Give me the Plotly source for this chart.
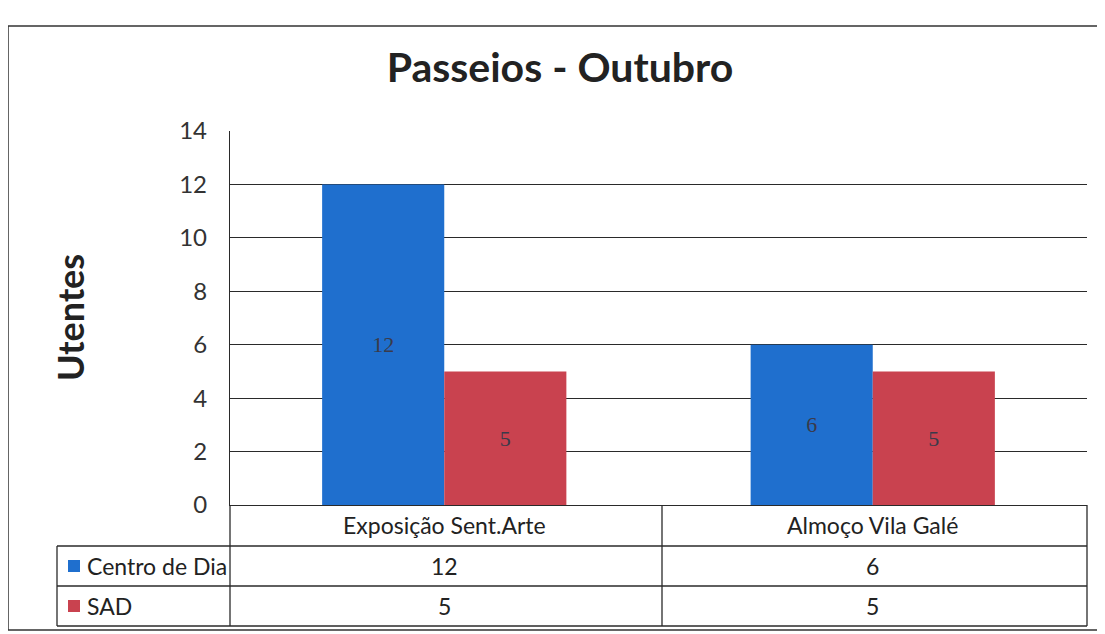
import plotly.graph_objs as go

categorias = ['Exposição Sent.Arte', 'Almoço Vila Galé']
series = ['Centro de Dia', 'SAD']
centro_de_dia = [12, 6]
sad = [5, 5]
valores = [centro_de_dia, sad]
cores = ['#1f6fce', '#c9424f']

W, H = 1105, 634
OFF = 8  # margem do body da página


def px(x):
    return (x - OFF) / W


def py(y):
    return 1 - (y - OFF) / H


fig = go.Figure()

for nome, vals, cor in zip(series, valores, cores):
    fig.add_trace(go.Bar(
        x=categorias,
        y=vals,
        name=nome,
        marker=dict(color=cor, line=dict(width=0)),
        text=[str(v) for v in vals],
        textposition='inside',
        insidetextanchor='middle',
        textfont=dict(family='Liberation Serif', size=22, color='#3a3a4a'),
    ))

shapes = []
line = dict(color='#2a2a2a', width=1.3)
# moldura exterior do gráfico
shapes.append(dict(type='rect', xref='paper', yref='paper',
                   x0=px(8), x1=px(1130), y0=py(630), y1=py(26),
                   line=dict(color='#333', width=1.5)))
# linhas horizontais da tabela
for yy in [546, 586, 626]:
    shapes.append(dict(type='line', xref='paper', yref='paper',
                       x0=px(57), x1=px(1087), y0=py(yy), y1=py(yy), line=line))
# linhas verticais da tabela
shapes.append(dict(type='line', xref='paper', yref='paper',
                   x0=px(57), x1=px(57), y0=py(546), y1=py(626), line=line))
for xx in [230, 662, 1087]:
    shapes.append(dict(type='line', xref='paper', yref='paper',
                       x0=px(xx), x1=px(xx), y0=py(505), y1=py(626), line=line))

annotations = []
fonte = dict(family='Lato', size=23, color='#222')
# cabeçalho com as categorias
for cat in categorias:
    annotations.append(dict(x=cat, xref='x', y=py(525), yref='paper', yanchor='middle',
                            text=cat, showarrow=False, font=fonte))
# linhas de valores + legenda
for i, (nome, vals, cor) in enumerate(zip(series, valores, cores)):
    yy = 566 + 40 * i
    annotations.append(dict(x=px(85), xref='paper', y=py(yy), yref='paper',
                            yanchor='middle', text=nome, showarrow=False,
                            xanchor='left', font=fonte))
    shapes.append(dict(type='rect', xref='paper', yref='paper',
                       x0=px(68), x1=px(80), y0=py(yy + 6), y1=py(yy - 6),
                       fillcolor=cor, line=dict(width=0)))
    for cat, v in zip(categorias, vals):
        annotations.append(dict(x=cat, xref='x', y=py(yy), yref='paper', yanchor='middle',
                                text=str(v), showarrow=False, font=fonte))

annotations.append(dict(x=px(70), xref='paper', y=py(318), yref='paper',
                        xanchor='center', yanchor='middle',
                        text='<b>Utentes</b>', textangle=-90, showarrow=False,
                        font=dict(family='Lato', size=36, color='#222')))

fig.update_layout(
    width=W,
    height=H,
    margin=dict(l=0, r=0, t=0, b=0),
    paper_bgcolor='white',
    plot_bgcolor='white',
    title=dict(text='<b>Passeios - Outubro</b>', x=px(560), xanchor='center',
               y=py(68), yanchor='middle',
               font=dict(family='Lato', size=41, color='#222')),
    showlegend=False,
    barmode='group',
    bargap=0.43,
    bargroupgap=0,
    xaxis=dict(domain=[px(230), px(1087)], showticklabels=False, ticks='',
               showline=True, linecolor='#2a2a2a', linewidth=1.3,
               showgrid=False, automargin=False),
    yaxis=dict(domain=[py(505), py(131)], range=[0, 14], dtick=2,
               showgrid=True, gridcolor='#2a2a2a', gridwidth=1.2,
               showline=True, linecolor='#2a2a2a', linewidth=1.3,
               zeroline=False, ticks='', ticklabelstandoff=17, automargin=False,
               tickfont=dict(family='Lato', size=24, color='#333')),
    shapes=shapes,
    annotations=annotations,
)

fig.write_html("out.html")
